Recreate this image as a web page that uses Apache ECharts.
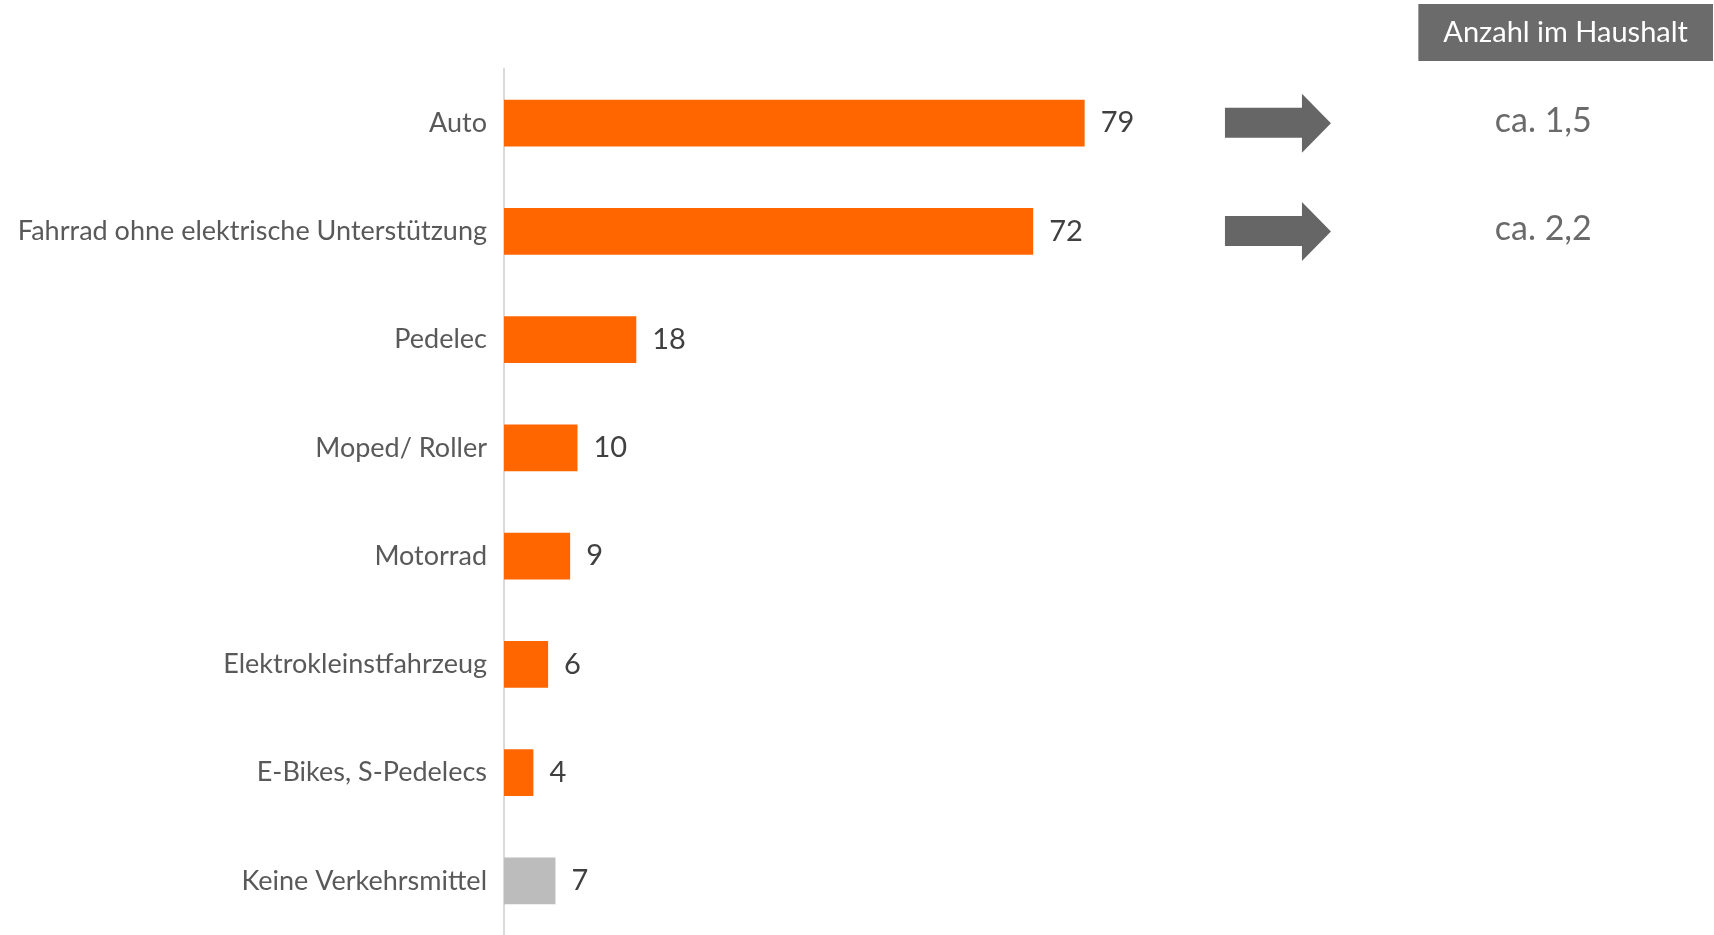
<!DOCTYPE html>
<html>
<head>
<meta charset="utf-8">
<script src="https://cdn.jsdelivr.net/npm/echarts@6/dist/echarts.min.js"></script>
<style>
html,body{margin:0;padding:0;background:#fff;}
#chart{width:1714px;height:935px;}
</style>
</head>
<body>
<div id="chart"></div>
<script>
// ---- data ----
const categories = [
  'Auto',
  'Fahrrad ohne elektrische Unterstützung',
  'Pedelec',
  'Moped/ Roller',
  'Motorrad',
  'Elektrokleinstfahrzeug',
  'E-Bikes, S-Pedelecs',
  'Keine Verkehrsmittel'
];
const shares = [79, 72, 18, 10, 9, 6, 4, 7];
const householdCategories = ['Auto', 'Fahrrad ohne elektrische Unterstützung'];
const householdCounts = ['ca. 1,5', 'ca. 2,2'];
const headerText = 'Anzahl im Haushalt';

// ---- chart ----
const FONT = 'Lato, "Open Sans", sans-serif';
const chart = echarts.init(document.getElementById('chart'));
const ARROW_X = 105.3;
const TEXT_X = 141.4;

const option = {
  backgroundColor: '#ffffff',
  animation: false,
  title: {
    text: headerText,
    right: 1,
    top: 4,
    backgroundColor: '#6b6b6b',
    padding: [11, 25, 10, 25],
    textStyle: { color: '#ffffff', fontFamily: FONT, fontSize: 29, fontWeight: 'normal', lineHeight: 36 }
  },
  grid: { left: 504, top: 69, width: 160 * 7.35, height: 871, containLabel: false },
  xAxis: {
    type: 'value', min: 0, max: 160, show: false
  },
  yAxis: {
    type: 'category',
    data: categories,
    inverse: true,
    axisLine: { show: true, lineStyle: { color: '#d9d9d9', width: 2 } },
    axisTick: { show: false },
    axisLabel: { color: '#595959', fontFamily: FONT, fontSize: 27, margin: 17 },
    splitLine: { show: false }
  },
  series: [
    {
      type: 'bar',
      data: shares,
      barWidth: '43%',
      itemStyle: {
        color: function (p) { return p.dataIndex === categories.length - 1 ? '#bcbcbc' : '#ff6600'; }
      },
      label: {
        show: true, position: 'right', distance: 16,
        color: '#404040', fontFamily: FONT, fontSize: 29
      }
    },
    {
      type: 'scatter',
      data: householdCategories.map(c => [ARROW_X, c]),
      symbol: 'path://M0,14 L77,14 L77,0 L106,29.5 L77,59 L77,44 L0,44 Z',
      symbolSize: [106, 59],
      symbolKeepAspect: false,
      itemStyle: { color: '#666666', opacity: 1 },
      silent: true
    },
    {
      type: 'scatter',
      data: householdCategories.map((c, i) => ({ value: [TEXT_X, c], name: householdCounts[i] })),
      symbolSize: 1,
      itemStyle: { color: 'rgba(0,0,0,0)', opacity: 1 },
      label: {
        show: true, position: 'inside', formatter: p => p.name, offset: [0, -2],
        color: '#6a6a6a', fontFamily: FONT, fontSize: 34, opacity: 1
      },
      silent: true
    }
  ]
};
chart.setOption(option);
</script>
</body>
</html>
